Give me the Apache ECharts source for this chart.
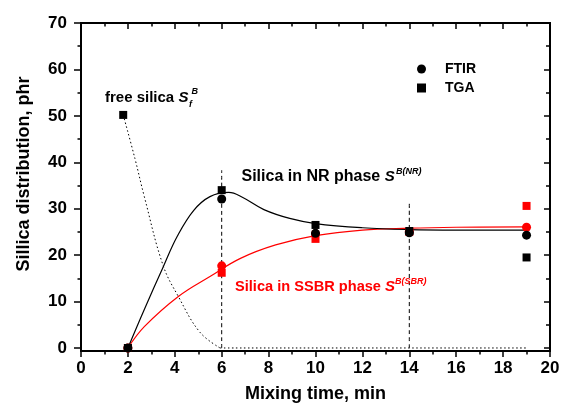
<!DOCTYPE html>
<html>
<head>
  <meta charset="utf-8">
  <style>
    html, body { margin: 0; padding: 0; background: #fff; }
    #main { width: 561px; height: 410px; }
  </style>
</head>
<body>
  <div id="main"></div>
  <script src="https://cdn.jsdelivr.net/npm/echarts@6/dist/echarts.min.js"></script>
  <script>
    // measured points, [min, phr]
    var ftirNR = [[2, 0], [6, 32.1], [10, 24.7], [14, 24.8], [19, 24.3]];
    var tgaNR = [[2, 0], [6, 34], [10, 26.5], [14, 25.2], [19, 19.5]];
    var tgaFree = [[1.8, 50.2]];
    var ftirSBR = [[2, 0], [6, 17.7], [10, 24.6], [14, 25.1], [19, 26.0]];
    var tgaSBR = [[2, 0], [6, 16.2], [10, 23.5], [14, 25.0], [19, 30.6]];

    // fitted curves
    var fitNR = [[2, 0], [2.7, 8.3], [3.5, 17.4], [4.1, 24], [4.8, 29.6], [5.5, 32.6], [6.3, 33.5],
      [6.9, 32.4], [7.8, 29.8], [8.9, 27.9], [10, 26.8], [12, 25.9], [14, 25.5], [16, 25.4], [19, 25.4]];
    var fitSBR = [[2, 0], [2.7, 4.6], [4.15, 11.1], [5.5, 15.4], [6.8, 19.3], [8.3, 22.2],
      [10, 24.2], [12, 25.4], [14, 25.8], [16, 26.0], [19, 26.1]];
    var fitFree = [[1.8, 50.2], [2.3, 40.8], [2.7, 32.6], [3.5, 17.8], [4.15, 11.1], [5.07, 3.4], [5.93, 0]];
    var fitFreeTail = [[5.93, 0], [19.06, 0]];

    var guide6 = [[6, 0], [6, 38.3]];
    var guide14 = [[14, 0], [14, 31.5]];

    var yMajor = [0, 10, 20, 30, 40, 50, 60, 70];
    var yMinor = [5, 15, 25, 35, 45, 55, 65];

    var fam = "'Liberation Sans', Arial, sans-serif";
    var chart = echarts.init(document.getElementById('main'));

    function yAx(pos, ticks, len, inside, labels) {
      return {
        type: 'value', position: pos, min: -0.65, max: 70,
        axisLine: { show: true, onZero: false, lineStyle: { color: '#000', width: 2 } },
        axisTick: { show: true, inside: inside, length: len, customValues: ticks, lineStyle: { color: '#000', width: 1.5 } },
        axisLabel: labels ? { show: true, customValues: ticks, margin: 14, color: '#000', fontSize: 17, fontWeight: 'bold', fontFamily: fam } : { show: false },
        splitLine: { show: false }
      };
    }
    function xAx(pos, inside, labels) {
      return {
        type: 'value', position: pos, min: 0, max: 20, interval: 2,
        axisLine: { show: true, onZero: false, lineStyle: { color: '#000', width: 2 } },
        axisTick: { show: true, inside: inside, length: 6, lineStyle: { color: '#000', width: 1.5 } },
        minorTick: { show: true, splitNumber: 2, length: 3.5, lineStyle: { color: '#000', width: 1.5 } },
        axisLabel: labels ? { show: true, margin: 9, color: '#000', fontSize: 17, fontWeight: 'bold', fontFamily: fam } : { show: false },
        splitLine: { show: false }, minorSplitLine: { show: false }
      };
    }

    var xBottom = xAx('bottom', false, true);
    xBottom.name = 'Mixing time, min';
    xBottom.nameLocation = 'middle';
    xBottom.nameGap = 34;
    xBottom.nameTextStyle = { color: '#000', fontSize: 18, fontWeight: 'bold', fontFamily: fam };

    var yLeft = yAx('left', yMajor, 7, false, true);
    yLeft.name = 'Sillica distribution, phr';
    yLeft.nameLocation = 'middle';
    yLeft.nameGap = 48;
    yLeft.nameTextStyle = { color: '#000', fontSize: 18, fontWeight: 'bold', fontFamily: fam, padding: [0, 0, 0, 26] };

    function line(data, color, type, width) {
      return {
        type: 'line', data: data, showSymbol: false, smooth: 0.4, silent: true,
        lineStyle: { color: color, width: width || 1.2, type: type || 'solid' }, z: 1
      };
    }
    function pts(name, data, color, symbol, size) {
      return {
        name: name, type: 'scatter', data: data, symbol: symbol, symbolSize: size,
        itemStyle: { color: color, opacity: 1 }, z: 3
      };
    }

    // label text followed by an italic S
    function lab(x, y, s, size, color) {
      return {
        type: 'text', x: x, y: y, z: 10,
        style: {
          text: '{m|' + s + ' }{s|S}', fill: color, fontSize: size, fontWeight: 'bold', fontFamily: fam, verticalAlign: 'middle',
          rich: {
            m: { fontSize: size, fontWeight: 'bold', fontFamily: fam, fill: color },
            s: { fontSize: 15, fontWeight: 'bold', fontStyle: 'italic', fontFamily: fam, fill: color }
          }
        }
      };
    }
    function small(x, y, s, color) {
      return {
        type: 'text', x: x, y: y, z: 10,
        style: { text: s, fill: color, fontSize: 9, fontWeight: 'bold', fontStyle: 'italic', fontFamily: fam, verticalAlign: 'middle' }
      };
    }

    chart.setOption({
      animation: false,
      grid: { left: 81, right: 11, top: 23, bottom: 59, outerBoundsMode: 'none' },
      xAxis: [xBottom, xAx('top', true, false)],
      yAxis: [
        yLeft,
        yAx('left', yMinor, 3.5, false, false),
        yAx('right', yMajor, 6, true, false),
        yAx('right', yMinor, 4, true, false)
      ],
      legend: {
        orient: 'vertical', left: 412, top: 56, itemGap: 3, itemWidth: 9, itemHeight: 9,
        selectedMode: false,
        data: [{ name: 'FTIR', icon: 'circle' }, { name: 'TGA', icon: 'rect' }],
        textStyle: { color: '#000', fontSize: 14, fontWeight: 'bold', fontFamily: fam, lineHeight: 16, padding: [0, 0, 0, 14] }
      },
      series: [
        line(guide6, '#000', [4, 3], 1),
        line(guide14, '#000', [4, 3], 1),
        line(fitFree, '#000', [1.5, 2.5], 1),
        line(fitFreeTail, '#000', [1.5, 2.5], 1),
        line(fitSBR, '#ff0000'),
        line(fitNR, '#000'),
        pts('FTIR SBR', ftirSBR, '#ff0000', 'circle', 9),
        pts('TGA SBR', tgaSBR, '#ff0000', 'rect', 8),
        pts('FTIR', ftirNR, '#000', 'circle', 9),
        pts('TGA', tgaNR, '#000', 'rect', 8),
        pts('TGA', tgaFree, '#000', 'rect', 8)
      ],
      graphic: [
        lab(105, 97.6, 'free silica', 15, '#000'),
        small(189, 105, 'f', '#000'),
        small(191.5, 92, 'B', '#000'),
        lab(241.5, 176.5, 'Silica in NR phase', 16, '#000'),
        small(396, 171.5, 'B(NR)', '#000'),
        lab(235, 286.5, 'Silica in SSBR phase', 14.6, '#ff0000'),
        small(395, 281.5, 'B(SBR)', '#ff0000')
      ]
    });
  </script>
</body>
</html>
